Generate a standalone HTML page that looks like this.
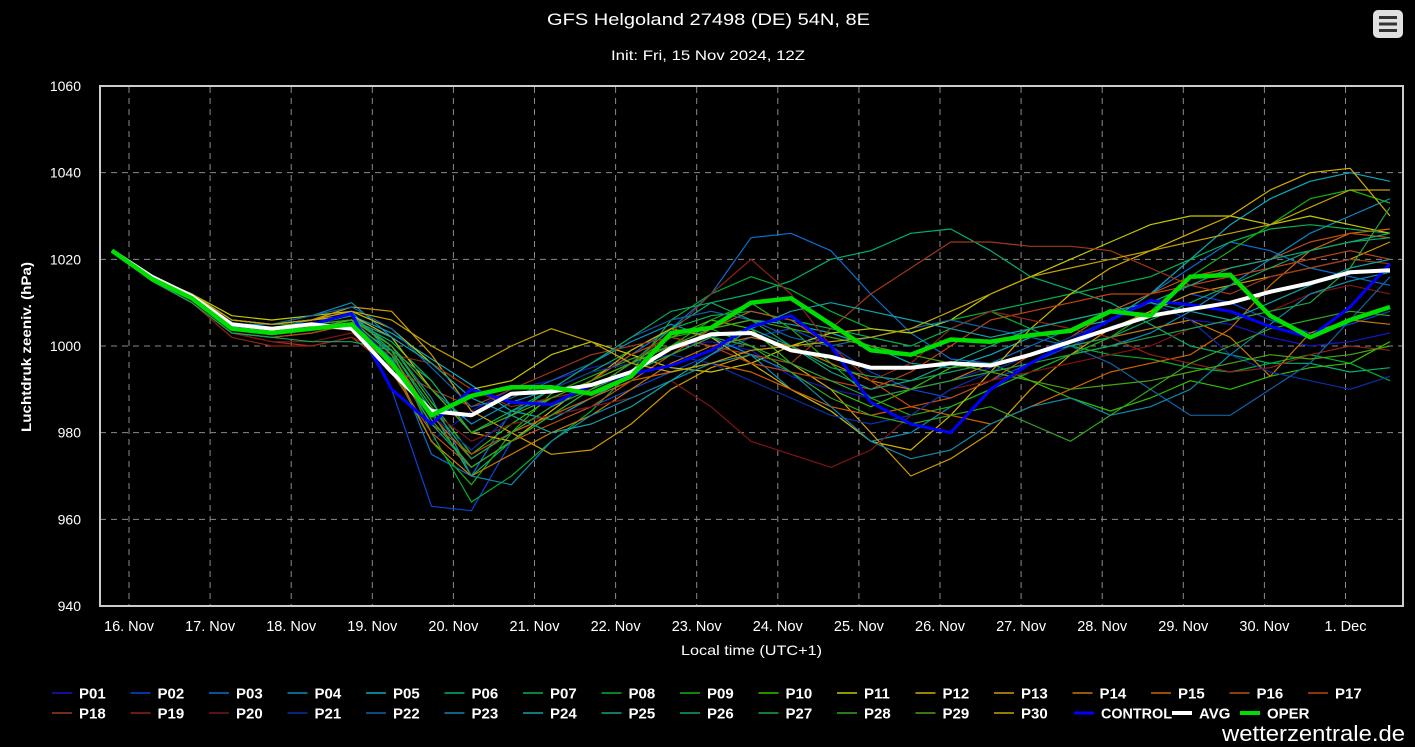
<!DOCTYPE html>
<html><head><meta charset="utf-8">
<style>
html,body{margin:0;padding:0;background:#000;}
svg{display:block;font-family:"Liberation Sans",sans-serif;}
</style></head>
<body>
<svg id="chart" width="1415" height="747" viewBox="0 0 1415 747" xmlns="http://www.w3.org/2000/svg">
<rect width="1415" height="747" fill="#000"/>
<text x="547" y="25" fill="#fff" font-size="17" textLength="323" lengthAdjust="spacingAndGlyphs">GFS Helgoland 27498 (DE) 54N, 8E</text>
<text x="611" y="60" fill="#fff" font-size="14" textLength="194" lengthAdjust="spacingAndGlyphs">Init: Fri, 15 Nov 2024, 12Z</text>
<g>
<rect x="1373" y="10" width="30" height="28" rx="5" fill="#e0e0e0"/>
<rect x="1379" y="16" width="18" height="3" fill="#333"/>
<rect x="1379" y="22.5" width="18" height="3" fill="#333"/>
<rect x="1379" y="29" width="18" height="3" fill="#333"/>
</g>
<g id="grid"></g>
<g id="series"></g>
<rect x="100" y="86" width="1303" height="520" fill="none" stroke="#ccc" stroke-width="2"/>
<g id="axes"></g>
<text transform="translate(31,262) rotate(-90)" fill="#fff" font-size="14" font-weight="bold" text-anchor="end" textLength="170" lengthAdjust="spacingAndGlyphs">Luchtdruk zeeniv. (hPa)</text>
<text x="681" y="655" fill="#fff" font-size="14" textLength="141" lengthAdjust="spacingAndGlyphs">Local time (UTC+1)</text>
<g id="legend"></g>
<text x="1222" y="741" fill="#fff" font-size="22" textLength="183" lengthAdjust="spacingAndGlyphs">wetterzentrale.de</text>
</svg>
<script>
const yTicks = [940, 960, 980, 1000, 1020, 1040, 1060];
const dayLabels = ["16. Nov","17. Nov","18. Nov","19. Nov","20. Nov","21. Nov","22. Nov","23. Nov","24. Nov","25. Nov","26. Nov","27. Nov","28. Nov","29. Nov","30. Nov","1. Dec"];
const memberNames = ["P01","P02","P03","P04","P05","P06","P07","P08","P09","P10","P11","P12","P13","P14","P15","P16","P17","P18","P19","P20","P21","P22","P23","P24","P25","P26","P27","P28","P29","P30"];
const P01=[1022,1016,1012,1006,1005,1006,1007,995,978,985,990,992,995,997,1000,1001,999,993,990,988,990,992,995,998,1000,1002,1004,1006,1005,1002,1000,1001,1003];
const P02=[1022,1015,1011,1004,1003,1004,1006,990,963,962,978,984,986,990,994,998,1002,1004,1000,994,990,988,992,996,1000,1004,1008,1012,1010,1006,1003,1005,1008];
const P03=[1022,1016,1012,1005,1004,1006,1008,998,975,970,985,988,992,998,1004,1012,1025,1026,1022,1012,1003,997,996,1000,1004,1008,1012,1018,1024,1022,1018,1016,1014];
const P04=[1022,1016,1011,1005,1005,1007,1010,1002,990,982,987,990,996,1001,1005,1002,998,990,985,978,980,986,990,994,998,1000,1003,1008,1014,1020,1026,1030,1034];
const P05=[1022,1016,1012,1006,1005,1006,1007,1003,997,991,985,983,988,993,1000,1004,1006,1005,1003,1000,996,995,998,1002,1004,1006,1012,1020,1028,1034,1038,1040,1038];
const P06=[1022,1015,1010,1003,1002,1003,1005,999,985,970,978,984,990,996,1004,1010,1012,1015,1020,1022,1026,1027,1022,1016,1013,1010,1005,1000,998,996,996,994,995];
const P07=[1022,1016,1011,1004,1004,1005,1006,1001,992,980,985,990,994,999,1004,1007,1008,1006,1004,1002,1000,1004,1008,1010,1012,1014,1016,1020,1024,1027,1028,1027,1026];
const P08=[1022,1016,1011,1005,1004,1005,1007,999,980,964,970,978,985,994,1006,1012,1016,1013,1008,1004,1003,1006,1008,1004,1000,998,997,995,994,996,998,996,992];
const P09=[1022,1016,1012,1006,1005,1005,1006,995,978,968,980,989,993,997,1000,1006,1010,1004,996,988,984,986,990,994,998,1002,1008,1016,1022,1028,1034,1036,1033];
const P10=[1022,1016,1011,1005,1004,1005,1007,1000,987,975,982,988,992,996,1002,1006,1004,996,990,986,990,995,996,992,988,985,988,992,990,993,995,996,1001];
const P11=[1022,1016,1012,1007,1006,1007,1008,1004,996,990,992,998,1001,998,995,994,996,1000,1003,1004,1003,1006,1012,1016,1020,1024,1028,1030,1030,1028,1030,1028,1026];
const P12=[1022,1016,1012,1006,1005,1006,1007,1002,990,980,978,985,992,999,1004,1002,996,990,985,978,976,984,994,1004,1012,1018,1022,1026,1030,1036,1040,1041,1030];
const P13=[1022,1016,1012,1006,1005,1006,1009,1008,998,985,980,975,976,982,990,995,998,996,990,980,970,974,980,990,998,1004,1008,1012,1014,1016,1018,1020,1024];
const P14=[1022,1016,1011,1005,1004,1005,1006,996,978,970,975,980,984,990,996,1000,1002,1000,996,992,990,992,996,998,1000,1002,1004,1006,1002,993,1003,1006,1005];
const P15=[1022,1016,1011,1005,1004,1005,1006,998,984,974,980,984,988,992,994,996,994,990,986,984,986,984,982,986,990,994,996,998,1004,1014,1022,1026,1027];
const P16=[1022,1016,1011,1005,1004,1004,1004,994,980,972,978,982,986,992,998,1004,1008,1006,1000,992,986,988,992,998,1002,1008,1012,1016,1018,1020,1024,1026,1025];
const P17=[1022,1015,1010,1003,1002,1003,1005,996,982,975,980,986,992,998,1002,1000,996,994,992,990,994,1000,1006,1008,1010,1012,1012,1014,1016,1018,1020,1022,1020];
const P18=[1022,1015,1010,1003,1001,1000,1002,995,990,986,990,994,998,1000,1002,1000,998,996,1004,1012,1018,1024,1024,1023,1023,1022,1018,1014,1012,1016,1018,1020,1019];
const P19=[1022,1015,1010,1002,1000,1000,1002,998,996,990,986,988,990,996,1003,1012,1020,1012,1000,992,996,1004,1008,1006,1004,1002,998,996,994,995,998,1000,999];
const P20=[1022,1015,1010,1003,1001,1001,1003,996,985,978,982,984,986,988,992,986,978,975,972,976,984,990,992,994,996,998,1000,1004,1006,1008,1012,1014,1012];
const P21=[1022,1016,1011,1005,1004,1005,1006,997,984,976,984,990,994,996,998,996,992,988,984,982,984,990,994,998,1002,1006,1010,1006,998,994,992,990,993];
const P22=[1022,1016,1012,1006,1005,1007,1009,1004,995,986,988,992,996,1002,1006,1008,1006,1002,1000,1002,1004,1006,1004,1002,1000,996,990,984,984,990,996,1006,1016];
const P23=[1022,1016,1011,1005,1004,1005,1007,1000,988,970,968,978,984,988,992,996,998,994,986,978,974,976,982,986,988,984,986,990,998,1005,1012,1015,1017];
const P24=[1022,1016,1011,1004,1003,1004,1006,1002,996,988,984,980,982,986,992,998,1004,1008,1010,1008,1006,1004,1002,1004,1006,1008,1010,1008,1006,1010,1014,1018,1020];
const P25=[1022,1016,1011,1005,1004,1004,1005,997,982,972,978,984,990,994,998,1002,1004,1000,994,990,992,996,1000,1004,1006,1008,1010,1014,1018,1020,1022,1024,1026];
const P26=[1022,1015,1010,1003,1002,1001,1001,999,992,980,984,990,996,1002,1008,1010,1006,1000,995,993,992,994,996,998,1000,1002,1006,1010,1014,1018,1022,1024,1025];
const P27=[1022,1016,1011,1005,1004,1005,1007,999,986,974,980,986,990,994,998,1002,1000,996,992,988,990,992,994,996,998,1000,1002,1004,1006,1008,1010,1018,1032];
const P28=[1022,1016,1011,1005,1004,1005,1006,998,983,972,978,984,990,996,1002,1004,1000,994,988,984,982,984,986,982,978,984,990,996,1000,1004,1006,1008,1007];
const P29=[1022,1016,1011,1004,1003,1004,1006,1000,990,980,984,988,992,996,1000,1004,1006,1004,1002,1000,998,996,994,992,990,991,992,994,996,998,997,998,1000];
const P30=[1022,1016,1012,1006,1005,1006,1008,1006,1000,995,1000,1004,1001,996,994,996,999,1000,1001,1002,1004,1008,1012,1016,1018,1020,1022,1024,1026,1028,1032,1036,1036];
const controlValues=[1022,1015.5,1011,1004.5,1004,1005,1007.5,990,982,990,987,986.5,991,993.5,995.5,999,1004.5,1007,1000,987,982,980,990,996,1001,1006,1010.5,1009.5,1008,1004.5,1002,1009,1019];
const avgValues=[1022,1016,1011.5,1005,1004,1005,1004,994,985,984,989,989.5,991,994,999.5,1002.7,1003,999,997.5,995,995,996,995.5,998,1001,1004,1007,1008.5,1010,1012.5,1014.5,1017,1017.5];
const operValues=[1022,1015.5,1011,1004,1003,1004,1005,996,984,988.5,990.5,990.5,989,993,1003,1004.2,1010,1011,1005,999,998,1001.5,1001,1002.5,1003.5,1008,1007,1016,1016.4,1007,1002,1006,1009];

const members=[P01,P02,P03,P04,P05,P06,P07,P08,P09,P10,P11,P12,P13,P14,P15,P16,P17,P18,P19,P20,P21,P22,P23,P24,P25,P26,P27,P28,P29,P30];
const colors=["#1515c8","#0a44d8","#0a6ed0","#0a8cc4","#0aaac0","#00b070","#00b450","#00b030","#18b010","#30c000","#c8c800","#d4b000","#d09a00","#c87800","#d06400","#c05010","#c04410","#a03818","#902414","#801414","#0830a8","#1062a8","#1088a8","#10a4a4","#10a484","#10a464","#20a440","#34a420","#4aa410","#c4a400"];

const NS="http://www.w3.org/2000/svg";
const X0=112, X1=1390, Y0=606, Y1=86, VMIN=940, VMAX=1060;
function xIdx(i,n){return X0+(X1-X0)*i/(n-1);}
function yVal(v){return Y0-(v-VMIN)/(VMAX-VMIN)*(Y0-Y1);}
function xDay(d){return 129+d*81.1;}
function mk(tag,attrs,parent){const e=document.createElementNS(NS,tag);for(const k in attrs)e.setAttribute(k,attrs[k]);parent.appendChild(e);return e;}

const grid=document.getElementById('grid'), axes=document.getElementById('axes'), series=document.getElementById('series'), legend=document.getElementById('legend');
yTicks.forEach(v=>{
  const y=yVal(v);
  if(v>VMIN&&v<VMAX){const l=mk('line',{x1:100,x2:1403,y1:y,y2:y,stroke:'#8a8a8a','stroke-width':1,'stroke-dasharray':'6,5'},grid);
  
  }
  const t=mk('text',{x:81,y:y+5,fill:'#fff','font-size':14,'text-anchor':'end'},axes);
  t.textContent=v;
  
  
});
dayLabels.forEach((lab,d)=>{
  const x=xDay(d);
  const l=mk('line',{x1:x,x2:x,y1:87,y2:606,stroke:'#8a8a8a','stroke-width':1,'stroke-dasharray':'6,5'},grid);
  
  
  const t=mk('text',{x:x,y:631,fill:'#fff','font-size':14.5,'text-anchor':'middle'},axes);
  t.textContent=lab;
  
  
});
function drawLine(vals,color,w,name){
  const pts=vals.map((v,i)=>xIdx(i,vals.length).toFixed(1)+','+yVal(v).toFixed(1)).join(' ');
  const p=mk('polyline',{points:pts,fill:'none',stroke:color,'stroke-width':w,'stroke-linejoin':'round'},series);
  
  
}
members.forEach((m,k)=>drawLine(m,colors[k],1.2,'series-'+memberNames[k].toLowerCase()));
drawLine(controlValues,'#0000ff',3,'series-control');
drawLine(avgValues,'#ffffff',4,'series-avg');
drawLine(operValues,'#00dd00',4.5,'series-oper');

const legItems=memberNames.map((n,k)=>({n:n,c:colors[k],w:1.5}));
legItems.push({n:'CONTROL',c:'#0000ff',w:3},{n:'AVG',c:'#ffffff',w:4},{n:'OPER',c:'#00dd00',w:4});
const extraX=[1074,1172,1240];
legItems.forEach((it,k)=>{
  const row=k<17?0:1, col=k<17?k:k-17;
  const x=k>=30?extraX[k-30]:52+col*78.5, y=row?713:693;
  const g=mk('g',{},legend);
  
  
  mk('line',{x1:x,x2:x+20,y1:y,y2:y,stroke:it.c,'stroke-width':it.w},g);
  const t=mk('text',{x:x+27,y:y+5.5,fill:'#fff','font-size':15,'font-weight':'bold'},g);
  if(it.n==='CONTROL'){t.setAttribute('textLength','71');t.setAttribute('lengthAdjust','spacingAndGlyphs');}
  t.textContent=it.n;
});
</script>
</body></html>
